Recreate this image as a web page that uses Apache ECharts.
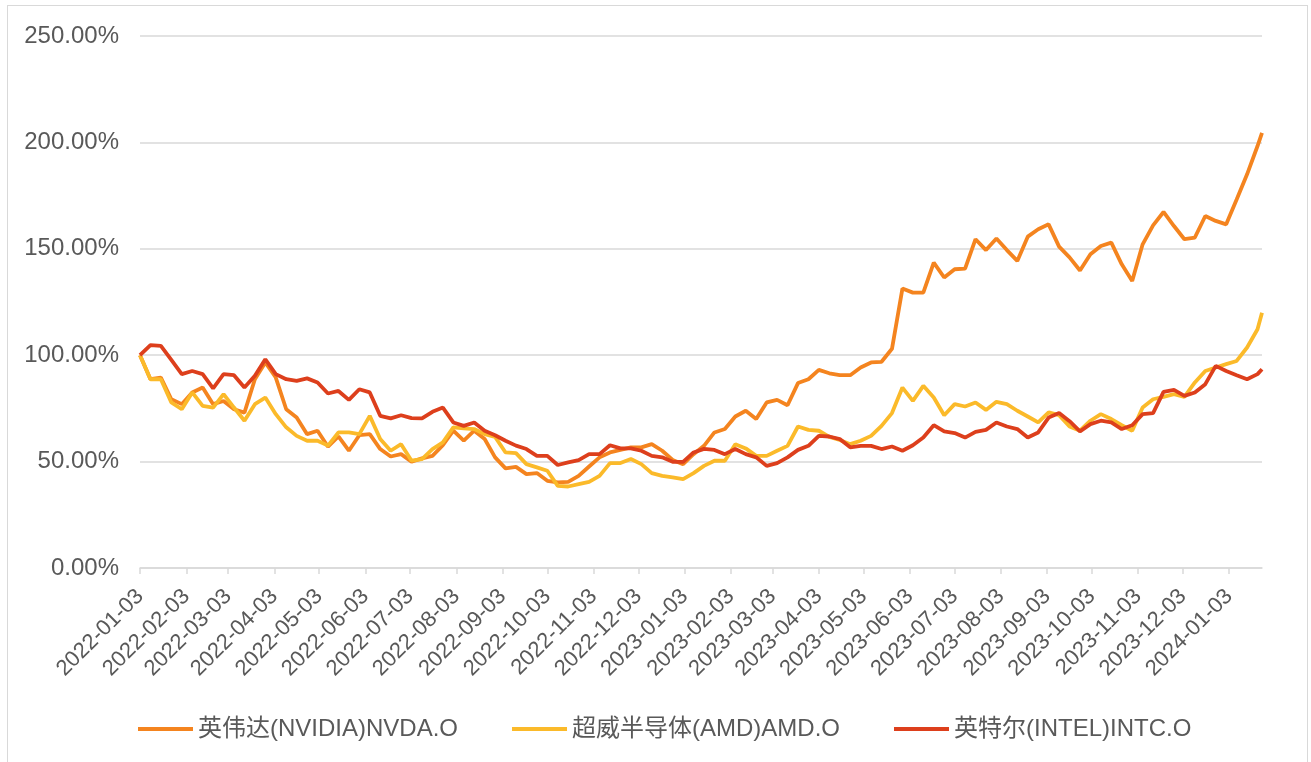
<!DOCTYPE html>
<html>
<head>
<meta charset="utf-8">
<script src="https://cdn.jsdelivr.net/npm/echarts@6/dist/echarts.min.js"></script>
<style>
  html, body { margin: 0; padding: 0; background: #fff; overflow: hidden; }
  #frame {
    position: absolute; left: 7px; top: 5px; width: 1301px; height: 800px;
    border: 1.5px solid #d9d9d9; box-sizing: border-box;
  }
  #chart { position: absolute; left: 0; top: 0; width: 1311px; height: 762px; }
</style>
</head>
<body>
<div id="frame"></div>
<div id="chart"></div>
<script>
// 日历轴: 2022-01-03 ~ 2024-01-25
var startDate = '2022-01-03';
var endDate = '2024-01-25';

// 采样日期: 每周一 + 最后一个交易日
var sampleStep = 7;
var lastSample = '2024-01-25';

var seriesNames = ['英伟达(NVIDIA)NVDA.O', '超威半导体(AMD)AMD.O', '英特尔(INTEL)INTC.O'];
var seriesColors = ['#f4841f', '#fbba2a', '#dd3f1c'];

// 相对 2022-01-03 的涨跌 (%)
var nvda = [100, 88.7, 89.5, 79.3, 77, 82.5, 84.8, 77, 78.5, 74.6,
  73, 88.7, 96.6, 89.5, 74.6, 70.7, 62.9, 64.5, 57, 61.8,
  55.1, 62.4, 62.9, 55.9, 52.4, 53.5, 49.9, 51.5, 52.7, 57.7,
  64.5, 59.8, 64.5, 60.6, 52, 46.8, 47.5, 44.1, 44.6, 41,
  40.2, 40.5, 43.3, 47.7, 52, 54.3, 55.5, 56.7, 56.7, 58.2,
  55.1, 50.8, 48.8, 53.5, 57.4, 63.7, 65.3, 71.2, 73.9, 70,
  77.8, 79, 76.5, 86.9, 88.7, 93.1, 91.5, 90.6, 90.6, 94.2,
  96.6, 96.9, 103, 131.3, 129.4, 129.4, 143.5, 136.5, 140.4, 140.7,
  154.5, 149.4, 154.8, 149.4, 144.3, 155.7, 159.2, 161.5, 151, 146,
  139.8, 147.4, 151.3, 152.9, 142.7, 134.9, 152.1, 161, 167.3, 160.7,
  154.5, 155.3, 165.4, 163.1, 161.5, 173.2, 185, 198.3, 204.5];

var amd = [100, 88.7, 88.7, 77.8, 74.6, 82.5, 76.2, 75.4, 81.7, 75.4,
  69.2, 77, 80.1, 72.3, 66.1, 62.1, 59.8, 59.8, 57.5, 63.7,
  63.7, 62.9, 71.5, 60.6, 55.1, 58.2, 50.4, 51.2, 55.9, 59,
  66.1, 65.6, 65.3, 62.9, 61.6, 54.3, 54, 48.8, 47.3, 45.7,
  38.6, 38.3, 39.4, 40.5, 43.3, 49.3, 49.3, 51.2, 48.8, 44.6,
  43.3, 42.6, 41.8, 44.6, 48, 50.4, 50.4, 58.2, 56.2, 52.7,
  52.7, 55.1, 57.4, 66.5, 64.9, 64.5, 61.6, 60.2, 58.2, 59.8,
  62.1, 66.8, 72.8, 84.8, 78.5, 85.6, 80.1, 71.8, 77, 75.9,
  77.8, 74.3, 78.1, 77, 73.9, 71.2, 68.4, 73.1, 71.8, 66.5,
  64.5, 69.2, 72.3, 70, 67.1, 64.5, 75.4, 79.3, 80.4, 81.7,
  80.4, 87.2, 92.6, 94.2, 95.8, 97.3, 103.6, 112.2, 120];

var intc = [100, 104.7, 104.4, 97.8, 91.1, 92.6, 91.1, 84.4, 91.1, 90.6,
  84.8, 90.3, 98.1, 91.1, 88.7, 87.9, 89.1, 87.2, 82, 83.2,
  79, 84, 82.5, 71.5, 70.3, 71.8, 70.4, 70.3, 73.4, 75.4,
  68.4, 66.8, 68.4, 64.5, 62.4, 59.8, 57.5, 55.9, 52.7, 52.7,
  48.4, 49.6, 50.7, 53.5, 53.5, 57.7, 56.2, 56.2, 55.1, 52.7,
  52, 49.9, 49.9, 54.3, 56, 55.5, 53.5, 55.9, 53.5, 52,
  48, 49.3, 52, 55.5, 57.4, 62.1, 61.8, 60.6, 56.7, 57.4,
  57.4, 55.9, 57.1, 55.1, 57.7, 61.3, 67.1, 64.2, 63.4, 61.3,
  64, 64.9, 68.4, 66.5, 65.3, 61.3, 63.7, 70.7, 72.8, 69,
  64.2, 67.6, 69.2, 68.4, 65.3, 67.1, 72.3, 72.8, 82.8, 83.7,
  80.9, 82.5, 86.4, 95, 92.6, 90.6, 88.7, 91.1, 93.4];

function fmt(d) {
  var m = d.getUTCMonth() + 1, day = d.getUTCDate();
  return d.getUTCFullYear() + '-' + (m < 10 ? '0' + m : m) + '-' + (day < 10 ? '0' + day : day);
}

var oneDay = 24 * 3600 * 1000;
var t0 = Date.parse(startDate + 'T00:00:00Z');
var t1 = Date.parse(endDate + 'T00:00:00Z');
var days = [];
for (var t = t0; t <= t1; t += oneDay) {
  days.push(fmt(new Date(t)));
}

var sampleDates = [];
for (var i = 0; i < days.length; i += sampleStep) {
  sampleDates.push(days[i]);
}
sampleDates.push(lastSample);

function pairs(vals) {
  var out = [];
  for (var k = 0; k < vals.length && k < sampleDates.length; k++) {
    out.push([sampleDates[k], vals[k]]);
  }
  return out;
}

function isThird(idx, val) {
  return val.slice(8) === '03';
}

var fontFamily = '"Liberation Sans", Arial, "Noto Sans CJK SC", sans-serif';

var option = {
  animation: false,
  grid: { left: 140, right: 49, top: 36, bottom: 194 },
  legend: {
    left: 138,
    bottom: 21,
    padding: 0,
    icon: 'rect',
    itemWidth: 55,
    itemHeight: 4,
    itemGap: 54,
    textStyle: { color: '#595959', fontSize: 24, fontFamily: fontFamily },
    data: seriesNames
  },
  xAxis: {
    type: 'category',
    boundaryGap: false,
    data: days,
    axisLine: { lineStyle: { color: '#d9d9d9', width: 1.5 } },
    axisTick: { show: true, interval: isThird, length: 6, lineStyle: { color: '#d9d9d9', width: 1.5 } },
    axisLabel: {
      interval: isThird,
      rotate: 45,
      margin: 25,
      color: '#595959',
      fontSize: 22,
      fontFamily: fontFamily
    },
    splitLine: { show: false }
  },
  yAxis: {
    type: 'value',
    min: 0,
    max: 250,
    interval: 50,
    axisLine: { show: false },
    axisTick: { show: false },
    axisLabel: {
      margin: 21,
      color: '#595959',
      fontSize: 24,
      fontFamily: fontFamily,
      formatter: function (v) { return v.toFixed(2) + '%'; }
    },
    splitLine: { lineStyle: { color: '#d9d9d9', width: 1.5 } }
  },
  series: [
    { name: seriesNames[0], type: 'line', data: pairs(nvda) },
    { name: seriesNames[1], type: 'line', data: pairs(amd) },
    { name: seriesNames[2], type: 'line', data: pairs(intc) }
  ].map(function (s, k) {
    s.symbol = 'none';
    s.color = seriesColors[k];
    s.lineStyle = { width: 3.8, color: seriesColors[k] };
    return s;
  })
};

var myChart = echarts.init(document.getElementById('chart'));
myChart.setOption(option);
</script>
</body>
</html>
